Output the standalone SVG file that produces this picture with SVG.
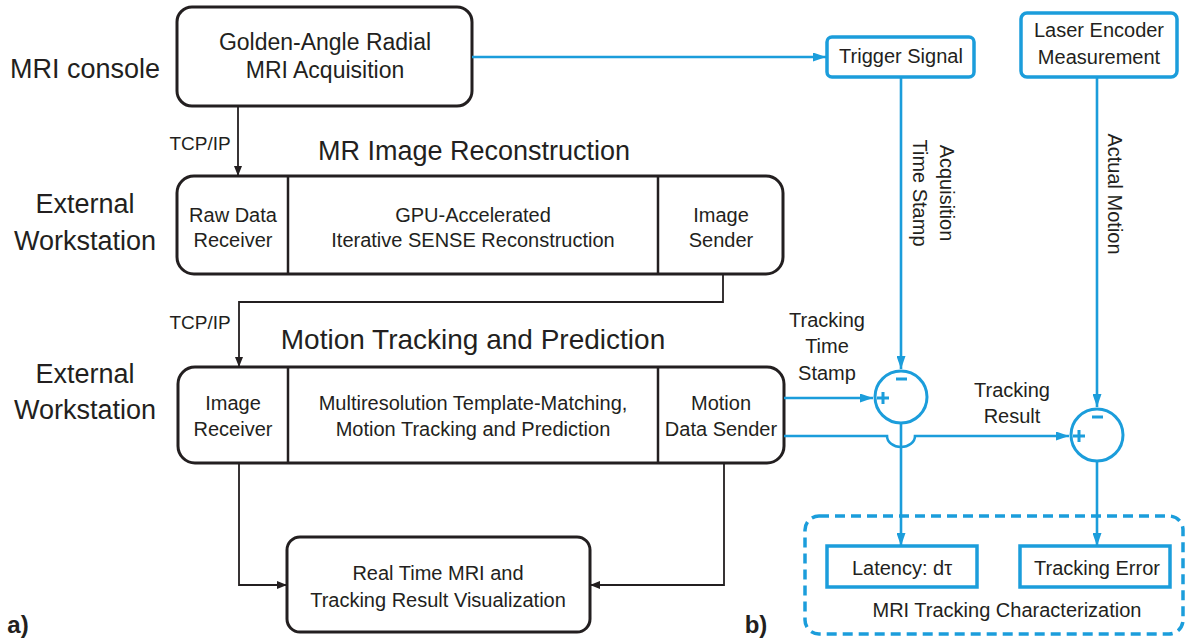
<svg xmlns="http://www.w3.org/2000/svg" width="1187" height="642" viewBox="0 0 1187 642">
<defs>
<style>
.box{fill:none;stroke:#231f20;stroke-width:3}
.dv{stroke:#231f20;stroke-width:2.5}
.bb{fill:none;stroke:#1b9ddb;stroke-width:3.5}
.t{font-family:"Liberation Sans",Arial,sans-serif;fill:#231f20;text-anchor:middle}
.big{font-size:27px}
.in{font-size:20px}
.sm{font-size:19px}
.c{fill:none;stroke:#231f20;stroke-width:1.8}
.bc{fill:none;stroke:#1b9ddb;stroke-width:2.6}
.sg{stroke:#1b9ddb;stroke-width:3;fill:none}
</style>
<marker id="ak" markerUnits="userSpaceOnUse" markerWidth="10" markerHeight="8" refX="10" refY="4" orient="auto"><path d="M0,0 L10,4 L0,8 z" fill="#231f20"/></marker>
<marker id="ab" markerUnits="userSpaceOnUse" markerWidth="13" markerHeight="9" refX="13" refY="4.5" orient="auto"><path d="M0,0 L13,4.5 L0,9 z" fill="#1b9ddb"/></marker>
</defs>
<rect width="1187" height="642" fill="#ffffff"/>

<g id="labels">
<text class="t big" x="85" y="78">MRI console</text>
<text class="t big" x="85" y="213">External</text>
<text class="t big" x="85" y="250">Workstation</text>
<text class="t big" x="85" y="383">External</text>
<text class="t big" x="85" y="419">Workstation</text>
<text class="t big" x="474" y="160">MR Image Reconstruction</text>
<text class="t" font-size="28" x="473" y="349">Motion Tracking and Prediction</text>
<text class="t" x="18" y="633" font-size="24" font-weight="bold" text-anchor="start">a)</text>
<text class="t" x="756" y="633" font-size="24" font-weight="bold" text-anchor="start">b)</text>
</g>

<g id="acquisition">
<rect class="box" x="177" y="7" width="295" height="99" rx="15"/>
<text class="t" font-size="23" x="325" y="50">Golden-Angle Radial</text>
<text class="t" font-size="23" x="325" y="78">MRI Acquisition</text>
</g>

<g id="reconstruction">
<rect class="box" x="177" y="176" width="606" height="98" rx="17"/>
<line class="dv" x1="288" y1="176" x2="288" y2="274"/>
<line class="dv" x1="658" y1="176" x2="658" y2="274"/>
<text class="t in" x="233" y="222">Raw Data</text>
<text class="t in" x="233" y="247">Receiver</text>
<text class="t in" x="473" y="222">GPU-Accelerated</text>
<text class="t in" x="473" y="247">Iterative SENSE Reconstruction</text>
<text class="t in" x="721" y="222">Image</text>
<text class="t in" x="721" y="247">Sender</text>
</g>

<g id="tracking">
<rect class="box" x="178" y="367" width="606" height="96" rx="17"/>
<line class="dv" x1="288" y1="367" x2="288" y2="463"/>
<line class="dv" x1="658" y1="367" x2="658" y2="463"/>
<text class="t in" x="233" y="410">Image</text>
<text class="t in" x="233" y="436">Receiver</text>
<text class="t in" x="473" y="410">Multiresolution Template-Matching,</text>
<text class="t in" x="473" y="436">Motion Tracking and Prediction</text>
<text class="t in" x="721" y="410">Motion</text>
<text class="t in" x="721" y="436">Data Sender</text>
</g>

<g id="visualization">
<rect class="box" x="287" y="537" width="303" height="95" rx="13"/>
<text class="t in" x="438" y="580">Real Time MRI and</text>
<text class="t in" x="438" y="607">Tracking Result Visualization</text>
</g>

<g id="trigger">
<rect class="bb" x="827" y="37" width="147" height="40" rx="5"/>
<text class="t in" x="901" y="63">Trigger Signal</text>
</g>

<g id="laser">
<rect class="bb" x="1021" y="13" width="156" height="64" rx="6"/>
<text class="t in" x="1099" y="37">Laser Encoder</text>
<text class="t in" x="1099" y="64">Measurement</text>
</g>

<g id="sum1">
<circle class="sg" cx="901" cy="397" r="26" stroke-width="3.5"/>
<path class="sg" d="M896,379 H907"/>
<path class="sg" d="M877,398 H889 M883,392 V404" stroke-width="2.5"/>
</g>

<g id="sum2">
<circle class="sg" cx="1097" cy="435" r="26" stroke-width="3.5"/>
<path class="sg" d="M1092,417 H1103"/>
<path class="sg" d="M1073,436 H1085 M1079,430 V442" stroke-width="2.5"/>
</g>

<g id="characterization">
<rect class="bb" x="805" y="516" width="378" height="118" rx="14" stroke-dasharray="10 6"/>
<text class="t in" x="1007" y="617">MRI Tracking Characterization</text>
</g>

<g id="latency">
<rect class="bb" x="827" y="546" width="150" height="41" stroke-width="4"/>
<text class="t in" x="902" y="575">Latency: dτ</text>
</g>

<g id="error">
<rect class="bb" x="1020" y="546" width="150" height="41" stroke-width="4"/>
<text class="t in" x="1097" y="575">Tracking Error</text>
</g>

<g id="connectors">
<path class="c" d="M238,106 V176" marker-end="url(#ak)"/>
<path class="c" d="M723,274 V302 H239 V367" marker-end="url(#ak)"/>
<path class="c" d="M239,463 V585 H287" marker-end="url(#ak)"/>
<path class="c" d="M724,463 V585 H590" marker-end="url(#ak)"/>
<path class="bc" d="M472,57 H826" marker-end="url(#ab)"/>
<path class="bc" d="M901,77 V369" marker-end="url(#ab)"/>
<path class="bc" d="M1097,77 V407" marker-end="url(#ab)"/>
<path class="bc" d="M784,398 H873" marker-end="url(#ab)"/>
<path class="bc" d="M784,436 H887 A14,11 0 0 0 915,436 H1069" marker-end="url(#ab)"/>
<path class="bc" d="M901,423 V546" marker-end="url(#ab)"/>
<path class="bc" d="M1097,461 V546" marker-end="url(#ab)"/>
<text class="t sm" x="200" y="150">TCP/IP</text>
<text class="t sm" x="200" y="329">TCP/IP</text>
<text class="t in" x="940" y="193" transform="rotate(90 940 193)">Acquisition</text>
<text class="t in" x="913" y="193" transform="rotate(90 913 193)">Time Stamp</text>
<text class="t in" x="1108" y="194" transform="rotate(90 1108 194)">Actual Motion</text>
<text class="t in" x="827" y="327">Tracking</text>
<text class="t in" x="827" y="353">Time</text>
<text class="t in" x="827" y="380">Stamp</text>
<text class="t in" x="1012" y="397">Tracking</text>
<text class="t in" x="1012" y="423">Result</text>
</g>
</svg>
